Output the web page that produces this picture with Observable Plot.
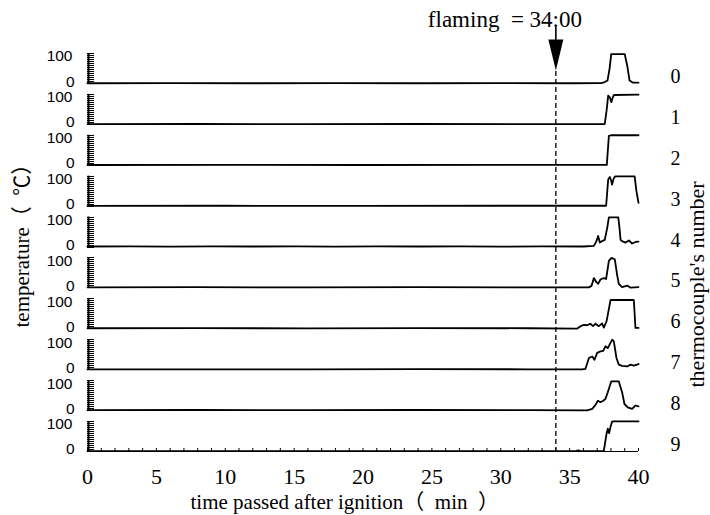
<!DOCTYPE html>
<html><head><meta charset="utf-8">
<script src="https://cdn.jsdelivr.net/npm/d3@7"></script>
<script src="https://cdn.jsdelivr.net/npm/@observablehq/plot@0.6"></script>
<style>body{margin:0;background:#fff}#chart svg{display:block;background:#fff}</style>
</head><body><div id="chart"></div>
<script>
// ---- data (time in min, temperature in °C) ----
const thermocouples = [0, 1, 2, 3, 4, 5, 6, 7, 8, 9];
const xTicks = [0, 5, 10, 15, 20, 25, 30, 35, 40];
const yTickLabels = [0, 100];
const flamingTime = 34;
const flamingLabel = "flaming\u00a0\u00a0= 34:00";
const xTitle = "time passed after ignition（\u2002min\u2002）";
const yTitle = "temperature（\u2002℃）";
const rightTitle = "thermocouple's number";

const tc0 = [[0,1],[6,1.5],[12,1],[18,1.5],[24,1],[30,1.5],[35,1],[37.3,1.5],[37.55,5],[37.75,10],[37.9,50],[38.02,98],[39.0,98],[39.2,55],[39.35,10],[39.6,3],[40,3]];
const tc1 = [[0,1],[8,1.5],[16,1],[24,1.5],[32,1],[37.55,1.5],[37.68,45],[37.8,96],[37.92,90],[38.03,74],[38.12,88],[38.22,98],[40,99]];
const tc2 = [[0,1],[10,1.5],[20,1],[30,1.5],[37.7,1.5],[37.85,98],[38.0,100],[40,100]];
const tc3 = [[0,1],[10,1.5],[20,1],[30,1.5],[37.65,1.5],[37.8,89],[37.92,97],[38.0,88],[38.08,72],[38.2,92],[38.3,99],[39.72,99],[39.85,50],[40,11]];
const tc4 = [[0,2],[3,2.5],[6,1.5],[9,2.5],[12,2],[15,2.5],[18,1.5],[21,2.5],[24,2],[27,2.5],[30,1.5],[33,2.5],[36,2],[36.76,4],[36.93,18],[37.07,37],[37.19,15],[37.36,20],[37.55,24],[37.73,64],[37.85,99],[38.53,99],[38.62,64],[38.7,24],[38.8,20],[39.06,15],[39.3,22],[39.54,12],[39.78,17],[40,18]];
const tc5 = [[0,2],[8,2.5],[16,2],[24,2.5],[32,2],[36.4,2],[36.59,7],[36.76,33],[36.93,20],[37.07,14],[37.24,28],[37.48,33],[37.65,30],[37.85,90],[38.04,100],[38.28,95],[38.45,43],[38.57,14],[38.81,3],[39.18,8],[39.42,1],[40,3]];
const tc6 = [[0,2],[8,2.5],[16,1.5],[24,2.5],[32,2],[35.55,1],[35.8,9],[36.03,13],[36.27,12],[36.5,17],[36.7,9],[36.88,17],[37.12,9],[37.36,18],[37.48,4],[37.68,25],[37.97,96],[39.66,96],[39.78,3],[40,3]];
const tc7 = [[0,1],[8,1.5],[16,1],[24,2],[32,1.5],[35.9,1],[36.15,3],[36.4,39],[36.64,44],[36.8,33],[37.0,56],[37.24,61],[37.44,63],[37.6,78],[37.77,72],[38.09,100],[38.21,94],[38.4,39],[38.57,17],[38.81,13],[39.18,11],[39.42,17],[39.66,14],[40,19]];
const tc8 = [[0,1.5],[8,2],[16,1.5],[24,2],[32,1.5],[36.27,1],[36.64,6],[36.88,19],[37.05,33],[37.24,28],[37.44,33],[37.6,39],[37.77,61],[38.02,97],[38.57,97],[38.81,61],[38.98,22],[39.22,11],[39.54,6],[39.78,17],[40,14]];
const tc9 = [[0,1],[10,1.5],[20,1],[30,1.5],[35.5,2],[35.6,4],[35.75,2],[37.48,1],[37.68,59],[37.77,76],[37.87,61],[37.97,82],[38.09,100],[40,100]];
const series = [tc0, tc1, tc2, tc3, tc4, tc5, tc6, tc7, tc8, tc9];

// ---- layout helpers: panels stacked on one y scale ----
const STEP = 136;                       // panel spacing in °C units
const off = i => (thermocouples.length - 1 - i) * STEP;
const rows = series.flatMap((s, i) => s.map(([t, v]) => ({tc: i, t, v})));
const combTicks = thermocouples.flatMap(i => d3.range(16).map(k => off(i) + k * 100 / 15));
const minorX = d3.range(0, 41, 1);

const serif = "'Liberation Serif', 'Times New Roman', 'Noto Sans CJK SC', serif";
const sans = "'Liberation Sans', Arial, sans-serif";

const arrowSymbol = {
  draw(ctx) {
    ctx.moveTo(-0.8, -27); ctx.lineTo(0.8, -27); ctx.lineTo(0.8, -14);
    ctx.lineTo(7.5, -14); ctx.lineTo(0, 17); ctx.lineTo(-7.5, -14);
    ctx.lineTo(-0.8, -14); ctx.closePath();
  }
};

const chart = Plot.plot({
  width: 710, height: 515,
  marginTop: 53, marginBottom: 64, marginLeft: 87, marginRight: 72,
  x: {domain: [0, 40]},
  y: {domain: [0, (thermocouples.length - 1) * STEP + 100]},
  style: {background: "#fff", color: "black"},
  marks: [
    // comb of y ticks per panel
    Plot.axisY(combTicks, {anchor: "left", tickSize: 7, dx: 7, tickFormat: () => "", label: null, shapeRendering: "crispEdges"}),
    Plot.ruleX(thermocouples, {x: () => 0, y1: i => off(i), y2: i => off(i) + 100, strokeWidth: 2, dx: 1}),
    Plot.text(thermocouples, {y: i => off(i) + yTickLabels[1], text: () => String(yTickLabels[1]), frameAnchor: "left", textAnchor: "end", dx: -15, dy: 3, fontFamily: sans, fontSize: 15.5}),
    Plot.text(thermocouples, {y: i => off(i) + yTickLabels[0], text: () => String(yTickLabels[0]), frameAnchor: "left", textAnchor: "end", dx: -13, dy: -2, fontFamily: sans, fontSize: 15.5}),
    // bottom axis
    Plot.ruleY([0], {strokeWidth: 1.2}),
    Plot.axisX(minorX, {tickSize: 3, dy: -3, tickFormat: () => "", label: null}),
    Plot.axisX(xTicks, {tickSize: 0, tickPadding: 17, fontSize: 22, fontFamily: serif, label: null}),
    // data
    Plot.line(rows, {x: "t", y: d => d.v + off(d.tc), z: "tc", stroke: "black", strokeWidth: 1.8, strokeLinejoin: "round"}),
    // flaming marker
    Plot.ruleX([flamingTime], {insetTop: 18, strokeDasharray: "5,3", strokeWidth: 1.3}),
    Plot.dot([flamingTime], {x: d => d, frameAnchor: "top", symbol: arrowSymbol, fill: "black", stroke: "none"}),
    Plot.text([{t: flamingTime, label: flamingLabel}], {x: "t", text: "label", frameAnchor: "top", textAnchor: "start", lineAnchor: "bottom", dx: -128, dy: -27, fontFamily: serif, fontSize: 23}),
    // right labels
    Plot.text(thermocouples, {y: i => off(i) + 23, text: i => String(i), frameAnchor: "right", textAnchor: "start", dx: 32, fontFamily: serif, fontSize: 20}),
    // titles
    Plot.text([yTitle], {frameAnchor: "left", rotate: -90, textAnchor: "start", dx: -65, dy: 75, fontFamily: serif, fontSize: 21}),
    Plot.text([rightTitle], {frameAnchor: "right", rotate: -90, textAnchor: "start", dx: 58, dy: 135, fontFamily: serif, fontSize: 22}),
    Plot.text([xTitle], {frameAnchor: "bottom-left", textAnchor: "start", lineAnchor: "bottom", dx: 103, dy: 57, fontFamily: serif, fontSize: 21})
  ]
});
document.getElementById("chart").append(chart);
</script>
</body></html>
